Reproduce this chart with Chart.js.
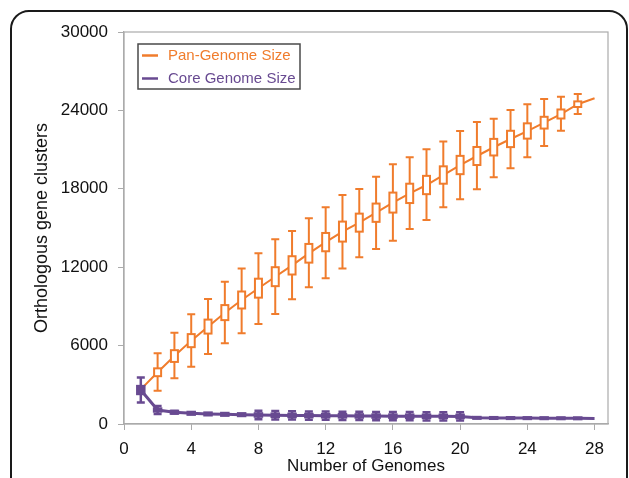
<!DOCTYPE html>
<html>
<head>
<meta charset="utf-8">
<script src="https://cdn.jsdelivr.net/npm/chart.js@4/dist/chart.umd.min.js"></script>
<style>
  html, body { margin: 0; padding: 0; background: #fff; }
</style>
</head>
<body>
<canvas id="chart" width="629" height="478"></canvas>
<script>
const genomes = [1, 2, 3, 4, 5, 6, 7, 8, 9, 10, 11, 12, 13, 14, 15, 16, 17, 18, 19, 20, 21, 22, 23, 24, 25, 26, 27, 28];
const xTicks = [0, 4, 8, 12, 16, 20, 24, 28];
const yTicks = [0, 6000, 12000, 18000, 24000, 30000];

// pan-genome: line value, whisker ends, box ends
const panMean = [2650, 3960, 5200, 6380, 7450, 8520, 9490, 10390, 11270, 12140, 13060, 13920, 14720, 15410, 16170, 16940, 17650, 18290, 19050, 19820, 20510, 21180, 21810, 22420, 23060, 23720, 24470, 24930];
const panMin = [null, 2550, 3500, 4390, 5360, 6180, 6940, 7650, 8420, 9540, 10460, 11150, 11900, 12760, 13390, 14030, 14920, 15610, 16580, 17200, 17960, 18880, 19570, 20410, 21280, 22450, 23720, null];
const panMax = [null, 5410, 6990, 8400, 9570, 10890, 11910, 13060, 14130, 14770, 15740, 16580, 17520, 17990, 18930, 19870, 20410, 21020, 21620, 22420, 23110, 23370, 24030, 24470, 24870, 25050, 25260, null];
const panQ1 = [null, 3660, 4750, 5880, 6920, 7950, 8840, 9670, 10550, 11440, 12350, 13220, 13960, 14720, 15470, 16180, 16910, 17590, 18390, 19120, 19820, 20550, 21190, 21840, 22610, 23380, 24260, null];
const panQ3 = [null, 4260, 5650, 6880, 7990, 9100, 10140, 11120, 12000, 12840, 13780, 14620, 15490, 16100, 16870, 17710, 18390, 18990, 19720, 20520, 21200, 21820, 22440, 23010, 23510, 24070, 24690, null];

// core genome
const coreMean = [2600, 1070, 900, 820, 770, 740, 715, 690, 670, 655, 645, 635, 625, 615, 605, 600, 595, 590, 585, 580, 470, 460, 455, 450, 445, 440, 435, 430];
const coreMin = [1650, 760, 800, 760, 720, 700, 680, 370, 350, 340, 330, 320, 310, 300, 290, 285, 280, 275, 270, 265, null, null, null, null, null, null, null, null];
const coreMax = [3550, 1380, 1000, 880, 820, 780, 750, 1010, 990, 970, 960, 950, 940, 930, 920, 915, 910, 905, 900, 895, null, null, null, null, null, null, null, null];
const coreQ1 = [2300, 960, 800, 720, 670, 640, 615, 570, 550, 535, 525, 515, 505, 495, 485, 480, 475, 470, 465, 460, 410, 400, 395, 390, 385, 380, 375, null];
const coreQ3 = [2900, 1180, 1000, 920, 870, 840, 815, 810, 790, 775, 765, 755, 745, 735, 725, 720, 715, 710, 705, 700, 530, 520, 515, 510, 505, 500, 495, null];

const ORANGE = '#f07c2c';
const PURPLE = '#684a91';
const AXIS_GREY = '#ababab';

function toPoints(values) {
    return genomes.map((g, i) => ({ x: g, y: values[i] }));
}

// solidBelow: boxes shorter than this (px) are filled
const boxes = [
    { min: panMin, max: panMax, q1: panQ1, q3: panQ3, color: ORANGE, lw: 2, solidBelow: 0 },
    { min: coreMin, max: coreMax, q1: coreQ1, q3: coreQ3, color: PURPLE, lw: 2.5, solidBelow: 10 },
];

// whiskers + boxes, drawn right after each dataset's line
const boxPlotPlugin = {
    id: 'boxPlot',
    afterDatasetDraw(chart, args) {
        const cfg = boxes[args.index];
        const { ctx, scales: { x, y } } = chart;
        ctx.save();
        ctx.strokeStyle = cfg.color;
        ctx.lineWidth = cfg.lw;
        genomes.forEach((g, i) => {
            const px = x.getPixelForValue(g);
            if (cfg.min[i] !== null) {
                const top = y.getPixelForValue(cfg.max[i]);
                const bot = y.getPixelForValue(cfg.min[i]);
                ctx.beginPath();
                ctx.moveTo(px, top);
                ctx.lineTo(px, bot);
                ctx.moveTo(px - 4, top);
                ctx.lineTo(px + 4, top);
                ctx.moveTo(px - 4, bot);
                ctx.lineTo(px + 4, bot);
                ctx.stroke();
            }
            if (cfg.q1[i] !== null) {
                const t = y.getPixelForValue(cfg.q3[i]);
                const b = y.getPixelForValue(cfg.q1[i]);
                ctx.fillStyle = (b - t) < cfg.solidBelow ? cfg.color : '#fff';
                ctx.fillRect(px - 3.5, t, 7, b - t);
                ctx.strokeRect(px - 3.5, t, 7, b - t);
            }
        });
        ctx.restore();
    }
};

const frameBoxPlugin = {
    id: 'frameBox',
    beforeDraw(chart) {
        const ctx = chart.ctx;
        ctx.save();
        ctx.fillStyle = '#fff';
        ctx.fillRect(0, 0, chart.width, chart.height);
        // outer rounded frame
        const l = 11, t = 11, r = 627, rad = 18;
        ctx.strokeStyle = '#1a1a1a';
        ctx.lineWidth = 2;
        ctx.beginPath();
        ctx.moveTo(l, chart.height + 5);
        ctx.lineTo(l, t + rad);
        ctx.arcTo(l, t, l + rad, t, rad);
        ctx.lineTo(r - rad, t);
        ctx.arcTo(r, t, r, t + rad, rad);
        ctx.lineTo(r, chart.height + 5);
        ctx.stroke();
        ctx.restore();
    },
    beforeDatasetsDraw(chart) {
        const { ctx, chartArea: a } = chart;
        ctx.save();
        ctx.strokeStyle = AXIS_GREY;
        ctx.lineWidth = 1.2;
        ctx.strokeRect(a.left, a.top, a.right - a.left, a.bottom - a.top);
        ctx.restore();
    }
};

const legendBoxPlugin = {
    id: 'legendBox',
    afterDraw(chart) {
        const ctx = chart.ctx;
        const items = [
            { text: 'Pan-Genome Size', color: ORANGE },
            { text: 'Core Genome Size', color: PURPLE },
        ];
        ctx.save();
        ctx.fillStyle = '#fff';
        ctx.fillRect(138, 44, 162, 45);
        ctx.strokeStyle = '#4a4a4a';
        ctx.lineWidth = 1.5;
        ctx.strokeRect(138, 44, 162, 45);
        ctx.font = '15px "Liberation Sans", Arial, sans-serif';
        ctx.textBaseline = 'middle';
        items.forEach((it, i) => {
            const yy = 55.5 + i * 23;
            ctx.strokeStyle = it.color;
            ctx.lineWidth = 2.5;
            ctx.beginPath();
            ctx.moveTo(142, yy);
            ctx.lineTo(158, yy);
            ctx.stroke();
            ctx.fillStyle = it.color;
            ctx.fillText(it.text, 168, yy);
        });
        ctx.restore();
    }
};

const font = { family: '"Liberation Sans", Arial, sans-serif', size: 17 };
const plainNumber = v => String(v);

new Chart(document.getElementById('chart').getContext('2d'), {
    type: 'line',
    data: {
        datasets: [
            {
                label: 'Pan-Genome Size',
                data: toPoints(panMean),
                borderColor: ORANGE,
                borderWidth: 2,
                pointRadius: 0,
                tension: 0,
                order: 2,
            },
            {
                label: 'Core Genome Size',
                data: toPoints(coreMean),
                borderColor: PURPLE,
                borderWidth: 3,
                pointRadius: 0,
                tension: 0,
                order: 1,
            },
        ]
    },
    options: {
        responsive: false,
        animation: false,
        devicePixelRatio: 1,
        layout: { padding: { top: 32, right: 21, left: 0, bottom: 0 } },
        plugins: {
            legend: { display: false },
            tooltip: { enabled: false },
        },
        scales: {
            x: {
                type: 'linear',
                min: 0,
                max: 28.8,
                afterBuildTicks: scale => { scale.ticks = xTicks.map(v => ({ value: v })); },
                afterFit: scale => { scale.height = 54; },
                grid: { drawOnChartArea: false, drawTicks: true, tickLength: 6, color: AXIS_GREY },
                border: { display: true, color: AXIS_GREY, width: 1.2 },
                ticks: { font, color: '#111', padding: 9, maxRotation: 0, callback: plainNumber },
                title: {
                    display: true,
                    text: 'Number of Genomes',
                    font,
                    color: '#111',
                    padding: { top: 0, bottom: 1 },
                },
            },
            y: {
                min: 0,
                max: 30000,
                afterBuildTicks: scale => { scale.ticks = yTicks.map(v => ({ value: v })); },
                afterFit: scale => { scale.width = 124; },
                grid: { drawOnChartArea: false, drawTicks: true, tickLength: 6, color: AXIS_GREY },
                border: { display: true, color: AXIS_GREY, width: 1.2 },
                ticks: { font, color: '#111', padding: 10, callback: plainNumber },
                title: {
                    display: true,
                    text: 'Orthologous gene clusters',
                    font: { family: font.family, size: 18 },
                    color: '#111',
                    padding: { top: 31, bottom: 0 },
                },
            },
        },
    },
    plugins: [frameBoxPlugin, boxPlotPlugin, legendBoxPlugin],
});
</script>
</body>
</html>
